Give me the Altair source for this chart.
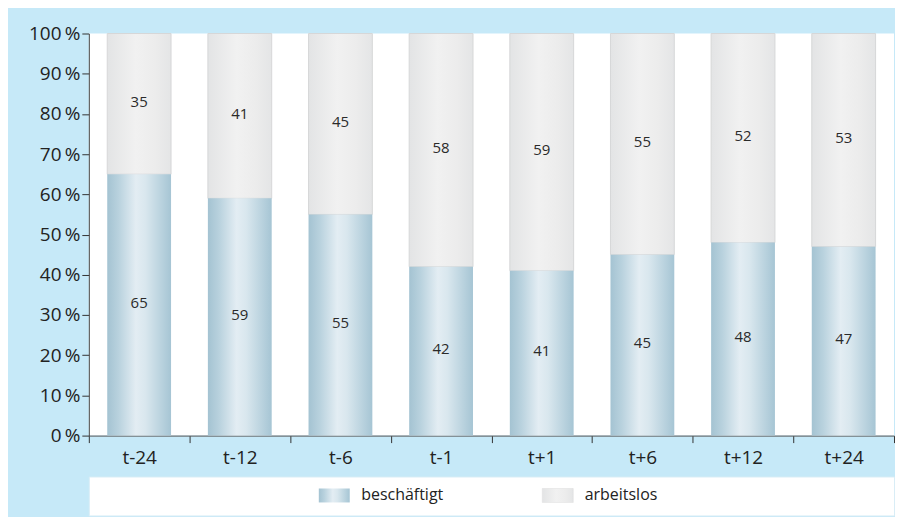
import altair as alt
import pandas as pd

categories = ["t-24", "t-12", "t-6", "t-1", "t+1", "t+6", "t+12", "t+24"]
beschaeftigt = [65, 59, 55, 42, 41, 45, 48, 47]
arbeitslos = [35, 41, 45, 58, 59, 55, 52, 53]
series = ["beschäftigt", "arbeitslos"]
y_ticks = [0, 10, 20, 30, 40, 50, 60, 70, 80, 90, 100]

df = pd.DataFrame({"cat": categories, "emp": beschaeftigt, "unemp": arbeitslos})
leg_df = pd.DataFrame({"series": series})

FONT = "Open Sans"
BG = "#c6e9f8"

blue_grad = alt.Gradient(
    gradient="linear", x1=0, x2=1, y1=0, y2=0,
    stops=[
        alt.GradientStop(color="#a4c3d2", offset=0),
        alt.GradientStop(color="#b9d2de", offset=0.18),
        alt.GradientStop(color="#e3edf3", offset=0.45),
        alt.GradientStop(color="#d9e7ee", offset=0.6),
        alt.GradientStop(color="#b9d2de", offset=0.85),
        alt.GradientStop(color="#a6c5d4", offset=1),
    ],
)
grey_grad = alt.Gradient(
    gradient="linear", x1=0, x2=1, y1=0, y2=0,
    stops=[
        alt.GradientStop(color="#e3e4e5", offset=0),
        alt.GradientStop(color="#f1f1f1", offset=0.45),
        alt.GradientStop(color="#ececec", offset=0.75),
        alt.GradientStop(color="#e4e5e6", offset=1),
    ],
)

x_enc = alt.X(
    "cat:N", sort=categories,
    scale=alt.Scale(paddingInner=0, paddingOuter=0),
    axis=alt.Axis(
        title=None, labelAngle=0, tickBand="extent", tickSize=7,
        domainColor="#555555", tickColor="#333333", labelColor="#222222",
        labelFontSize=19, labelPadding=6, labelFont=FONT,
        minExtent=34, maxExtent=34,
    ),
)
y_scale = alt.Scale(domain=[0, 100], nice=False)
y_axis = alt.Axis(
    values=y_ticks, labelExpr="datum.value + '\u2009%'", title=None, grid=False,
    tickSize=7, domainColor="#444444", tickColor="#333333", labelColor="#222222",
    labelFontSize=19, labelPadding=2, labelFont=FONT,
    minExtent=60, maxExtent=60,
)

base = alt.Chart(df)
band = alt.RelativeBandSize(0.634)

emp_bar = base.mark_bar(color=blue_grad, width=band).encode(
    x=x_enc,
    y=alt.Y("emp:Q", scale=y_scale, axis=y_axis),
)
unemp_bar = base.transform_calculate(top="datum.emp + datum.unemp").mark_bar(
    color=grey_grad, width=band, stroke="#d6d7d8", strokeWidth=1
).encode(
    x=x_enc,
    y=alt.Y("emp:Q", scale=y_scale, axis=y_axis),
    y2="top:Q",
)
emp_txt = base.transform_calculate(ym="datum.emp / 2").mark_text(
    fontSize=15, color="#2a2a2a", font=FONT, baseline="middle", dy=-2
).encode(x=x_enc, y=alt.Y("ym:Q", scale=y_scale, axis=y_axis), text="emp:Q")
unemp_txt = base.transform_calculate(ym="datum.emp + datum.unemp / 2").mark_text(
    fontSize=15, color="#2a2a2a", font=FONT, baseline="middle", dy=-2
).encode(x=x_enc, y=alt.Y("ym:Q", scale=y_scale, axis=y_axis), text="unemp:Q")

main = alt.layer(unemp_bar, emp_bar, emp_txt, unemp_txt).properties(
    width=807, height=403,
    view=alt.ViewBackground(fill="white", stroke=None),
)

leg_x = alt.X(
    "series:N",
    scale=alt.Scale(type="point", domain=series, range=[246, 470], padding=0),
    axis=None,
)
leg_base = alt.Chart(leg_df)
sw_blue = leg_base.transform_filter(alt.datum.series == series[0]).mark_bar(
    color=blue_grad, width=31
).encode(x=leg_x, y=alt.value(12), y2=alt.value(26))
sw_grey = leg_base.transform_filter(alt.datum.series == series[1]).mark_bar(
    color=grey_grad, width=31, stroke="#dcdcdc", strokeWidth=0.5
).encode(x=leg_x, y=alt.value(12), y2=alt.value(26))
leg_txt = leg_base.mark_text(
    align="left", baseline="middle", dx=27, fontSize=16, color="#222222", font=FONT
).encode(x=leg_x, y=alt.value(19), text="series:N")

legend = alt.layer(sw_blue, sw_grey, leg_txt).properties(
    width=807, height=39,
    view=alt.ViewBackground(fill="white", stroke="#d9edf6", strokeWidth=1),
)

chart = alt.vconcat(main, legend, spacing=6).properties(
    padding={"left": 20, "top": 16, "right": 0, "bottom": 0},
).configure(background=BG, font=FONT)

chart.save("out.html", embed_options={"renderer": "svg", "actions": False})
